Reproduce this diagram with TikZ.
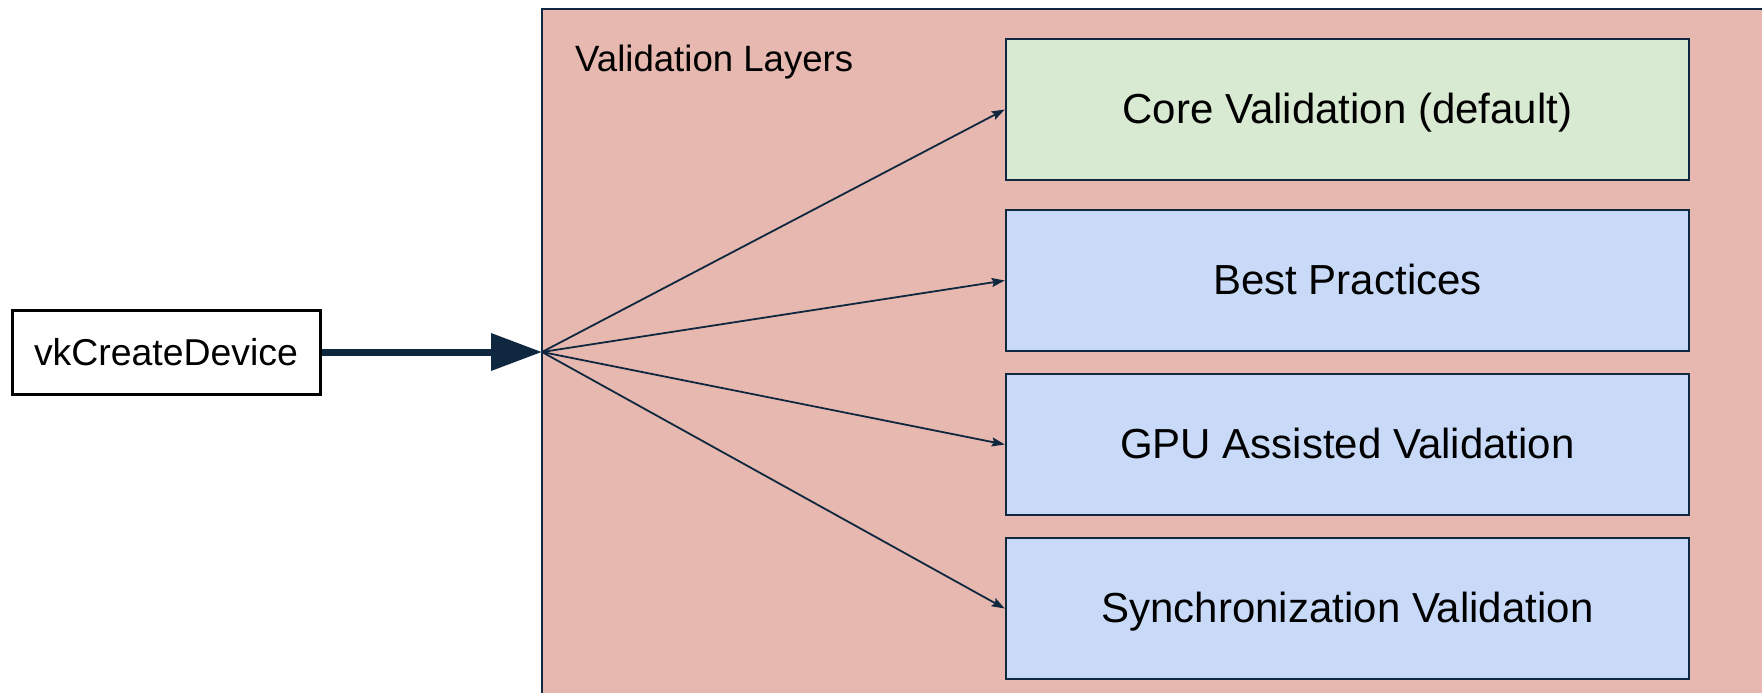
\documentclass[tikz,border=0pt]{standalone}
\usepackage{fontspec}
\setmainfont{Liberation Sans}
\usetikzlibrary{arrows.meta}
\definecolor{navy}{HTML}{10283F}
\definecolor{layerfill}{HTML}{E6B8AF}
\definecolor{corefill}{HTML}{D9EAD3}
\definecolor{bluefill}{HTML}{C9DAF8}
\begin{document}
\begin{tikzpicture}[x=1pt,y=-1pt,
  layerbox/.style={draw=navy, line width=2.5pt, minimum width=683pt, minimum height=141pt, inner sep=0pt, text height=28pt, text depth=0pt, font=\fontsize{42}{50}\selectfont},
  thin/.style={draw=navy, line width=1.8pt, -{Stealth[length=13pt,width=9pt,inset=2pt]}},
  thick/.style={draw=navy, line width=7pt, -{Triangle[length=51pt,width=36pt]}}]
\useasboundingbox (0,0) rectangle (1762,693);
\clip (0,0) rectangle (1762,693);
\fill[white] (0,0) rectangle (1762,693);
\draw[navy, line width=2pt, fill=layerfill] (542,9) rectangle (1800,720);
\node[anchor=base west, inner sep=0pt, font=\fontsize{36.6}{44}\selectfont] (title) at (575,72) {Validation Layers};
\node[layerbox, fill=corefill] (core) at (1347.5,109.5) {Core Validation (default)};
\node[layerbox, fill=bluefill] (best) at (1347.5,280.5) {Best Practices};
\node[layerbox, fill=bluefill] (gpu) at (1347.5,444.5) {GPU Assisted Validation};
\node[layerbox, fill=bluefill] (sync) at (1347.5,608.5) {Synchronization Validation};
\node[draw=black, line width=3pt, fill=white, minimum width=308pt, minimum height=84pt, inner sep=0pt, font=\fontsize{37.4}{44}\selectfont] (vk) at (166,352) {vkCreateDevice};
\coordinate (fan) at (542,352);
\draw[thick] (vk.east) -- (fan);
\draw[thin] (fan) -- (core.west);
\draw[thin] (fan) -- (best.west);
\draw[thin] (fan) -- (gpu.west);
\draw[thin] (fan) -- (sync.west);
\end{tikzpicture}
\end{document}
